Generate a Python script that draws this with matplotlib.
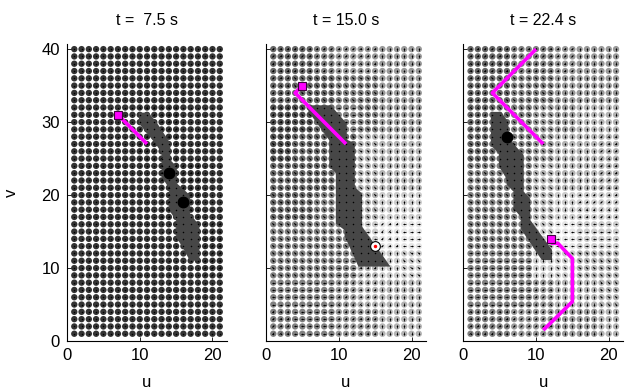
import numpy as np
import matplotlib.pyplot as plt
from matplotlib.collections import LineCollection
from matplotlib.path import Path
from matplotlib.patches import Polygon

plt.rcParams['font.family'] = ['Liberation Sans', 'DejaVu Sans']

# grid of states
u_vals = np.arange(1, 22)
v_vals = np.arange(1, 41)

titles = ['t =  7.5 s', 't = 15.0 s', 't = 22.4 s']

# gray level (digit/10) per block of 3 u x 4 v, rows from v 37-40 down to v 1-4
gray_1 = ['2222222'] * 10
gray_2 = ['4456666', '4445566', '3345566', '3444777', '4444777',
          '4455788', '5555899', '5555788', '5556777', '5556677']
gray_3 = ['4455666', '4455666', '4456677', '4456777', '5557777',
          '5557888', '5558988', '5558877', '5556777', '5566667']

# arrow orientation per block: u = '/', d = '\', v = '|', h = '-', . = none
dir_1 = ['.......', '.......', '...uu..', '...uu..', '....uu.',
         '....uu.', '.....uu', '......u', '.......', '.......']
dir_2 = ['uuuuuvv', 'uddddvv', 'uddhdvv', 'dddddvv', 'dddddvv',
         'dddddvv', 'ddddhuh', 'dddhuvd', 'hhhuuvv', 'uhhuuvv']
dir_3 = ['uuuuuvv', 'udddvvv', 'udddvvv', 'ddddvvu', 'ddddvvu',
         'ddddvuu', 'ddddhhh', 'hhhvddd', 'hhhuvvd', 'uuuuvvv']

# dark region (u, v corners)
poly_1 = [(9.9, 31.3), (11.2, 31.3), (12.3, 30.0), (14.2, 27.1), (14.2, 24.8),
          (15.1, 23.9), (15.1, 21.6), (16.9, 20.0), (16.9, 17.5), (18.2, 15.8),
          (18.2, 11.0), (16.9, 11.0), (15.8, 13.0), (15.0, 14.2), (15.0, 16.5),
          (14.0, 18.0), (14.0, 21.0), (13.0, 22.5), (13.0, 25.8), (12.2, 27.0),
          (9.9, 29.8)]
poly_2 = [(6.0, 32.3), (8.9, 32.3), (11.1, 29.8), (11.1, 27.6), (12.2, 27.1),
          (12.2, 21.1), (13.2, 20.2), (13.2, 15.7), (17.1, 10.2), (12.7, 10.2),
          (10.8, 14.4), (10.8, 15.2), (9.6, 16.1), (9.6, 23.0), (8.7, 23.9),
          (8.7, 27.5), (5.8, 31.5)]
poly_3 = [(3.8, 31.4), (5.2, 31.4), (6.2, 30.0), (6.2, 27.8), (8.3, 25.5),
          (8.3, 20.5), (9.2, 19.5), (9.2, 16.6), (12.2, 12.5), (12.2, 11.1),
          (10.8, 11.1), (9.7, 12.7), (7.9, 15.4), (7.9, 17.0), (6.9, 18.2),
          (6.9, 20.5), (6.0, 21.4), (5.8, 22.5), (4.9, 23.9), (4.9, 25.7),
          (3.8, 26.8)]

# magenta trajectories
path_1 = [([7, 11], [31, 27])]
path_2 = [([11, 4, 5], [27, 34, 35])]
path_3 = [([11, 4, 10], [27, 34, 40]),
          ([12, 12.2, 13, 15, 15, 11], [14, 13.4, 13.4, 11.3, 5.4, 1.5])]
square_pos = [(7, 31), (5, 35), (12, 14)]
black_dots = [[(14, 23), (16, 19)], [], [(6, 28)]]
target_2 = (15, 13)

vec = {'u': (1, 1), 'd': (1, -1), 'v': (0, 1), 'h': (1, 0)}

fig = plt.figure(figsize=(6.31, 3.92), dpi=100)
lefts = [0.1062, 0.4216, 0.7342]
gray_maps = [gray_1, gray_2, gray_3]
dir_maps = [dir_1, dir_2, dir_3]
polys = [poly_1, poly_2, poly_3]
paths = [path_1, path_2, path_3]

U, V = np.meshgrid(u_vals, v_vals)
U = U.ravel()
V = V.ravel()
row = (40 - V) // 4
col = (U - 1) // 3

for i in range(3):
    ax = fig.add_axes([lefts[i], 0.130, 0.2536, 0.7577])
    g = np.array([int(gray_maps[i][r][c]) / 10 for r, c in zip(row, col)])
    ax.scatter(U, V, s=21, c=np.stack([g, g, g], axis=1), linewidths=0, zorder=1)
    ax.add_patch(Polygon(polys[i], closed=True, facecolor='#474747',
                         edgecolor='none', zorder=2))
    inside = Path(polys[i]).contains_points(np.column_stack([U, V]))
    segs = []
    for x, y, r, c, ins in zip(U, V, row, col, inside):
        ch = dir_maps[i][r][c]
        if ins or ch == '.':
            continue
        dx, dy = vec[ch]
        n = np.hypot(dx, dy)
        dx, dy = 0.2 * dx / n, 0.2 * dy / n
        segs.append([(x - dx, y - dy), (x + dx, y + dy)])
    ax.add_collection(LineCollection(segs, colors='black', linewidths=0.55, zorder=3))
    ax.plot(U, V, 'o', color='black', ms=1.1, mew=0, zorder=3)
    for px, py in paths[i]:
        ax.plot(px, py, color='#ff00ff', lw=2.6, zorder=4, solid_capstyle='butt')
    for bx, by in black_dots[i]:
        ax.plot(bx, by, 'o', color='black', ms=7.5, zorder=5)
    sx, sy = square_pos[i]
    ax.plot(sx, sy, 's', mfc='#ff00ff', mec='#400040', ms=6, mew=0.8, zorder=6)
    if i == 1:
        ax.plot(*target_2, 'o', mfc='white', mec='black', ms=7, mew=0.8, zorder=5)
        ax.plot(*target_2, 'o', color='red', ms=2.5, mew=0, zorder=6)

    ax.set_xlim(0, 22)
    ax.set_ylim(0, 40.7)
    ax.set_xticks([0, 10, 20])
    ax.set_yticks([0, 10, 20, 30, 40])
    ax.spines['top'].set_visible(False)
    ax.spines['right'].set_visible(False)
    ax.tick_params(direction='in', length=3, width=0.6, labelsize=12, pad=5)
    ax.set_title(titles[i], fontsize=11.5, pad=14)
    ax.set_xlabel('u', fontsize=12, labelpad=9)
    if i == 0:
        ax.set_ylabel('v', fontsize=12, labelpad=16)
    else:
        ax.set_yticklabels([])

fig.savefig('out.png', dpi=100)
